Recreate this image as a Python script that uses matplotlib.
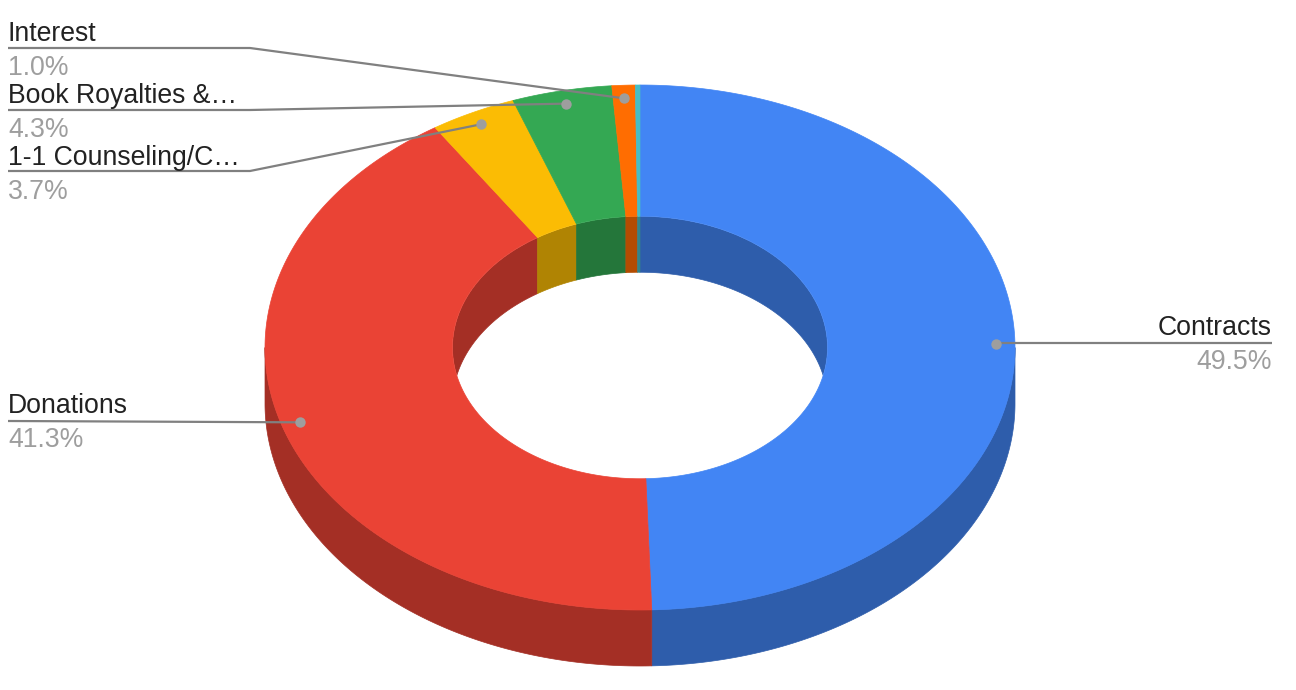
import numpy as np
import matplotlib.pyplot as plt
from matplotlib.patches import Polygon, Ellipse

# slice data, clockwise from 12 o'clock
labels = ['Contracts', 'Donations', '1-1 Counseling/C…', 'Book Royalties &…', 'Interest', 'Other']
values = [49.5, 41.3, 3.7, 4.3, 1.0, 0.2]
colors = ['#4285F4', '#EA4335', '#FBBC04', '#34A853', '#FF6D01', '#46BDC6']
show_label = [True, True, True, True, True, False]

# geometry of the 3d donut (pixels)
cx, cy = 640, 347.5
ra, rb = 375, 262.5
hole = 0.5
depth = 56
dot_r = 0.95

plt.rcParams['font.family'] = ['Liberation Sans', 'DejaVu Sans']

fig = plt.figure(figsize=(12.96, 6.9), dpi=100)
ax = fig.add_axes([0, 0, 1, 1])
ax.set_xlim(0, 1296)
ax.set_ylim(690, 0)
ax.axis('off')


def darken(c, f=0.7):
    rgb = np.array(plt.matplotlib.colors.to_rgb(c))
    return tuple(rgb * f)


def pt(theta, r, dy=0.0):
    t = np.radians(theta)
    return cx + r * ra * np.sin(t), cy - r * rb * np.cos(t) + dy


def arc(t0, t1, r, dy=0.0, n=200):
    th = np.linspace(t0, t1, n)
    x, y = pt(th, r, dy)
    return np.column_stack([x, y])


total = sum(values)
bounds = np.concatenate([[0], np.cumsum(values) / total * 360])

# outer wall (front half: 90..270)
for i, c in enumerate(colors):
    a, b = max(bounds[i], 90), min(bounds[i + 1], 270)
    if b <= a:
        continue
    top = arc(a, b, 1)
    bot = arc(b, a, 1, depth)
    ax.add_patch(Polygon(np.vstack([top, bot]), closed=True, fc=darken(c),
                         ec=darken(c), lw=0.5, zorder=1))

# inner wall (far half of the hole), clipped to the hole opening
hole_clip = Ellipse((cx, cy), 2 * ra * hole, 2 * rb * hole, transform=ax.transData,
                    fc='none', ec='none')
ax.add_patch(hole_clip)
for i, c in enumerate(colors):
    for lo, hi in [(-90, 90), (270, 450)]:
        a, b = max(bounds[i], lo), min(bounds[i + 1], hi)
        if b <= a:
            continue
        top = arc(a, b, hole)
        bot = arc(b, a, hole, depth)
        p = Polygon(np.vstack([top, bot]), closed=True, fc=darken(c),
                    ec=darken(c), lw=0.5, zorder=1)
        ax.add_patch(p)
        p.set_clip_path(hole_clip)

# top face
for i, c in enumerate(colors):
    outer = arc(bounds[i], bounds[i + 1], 1)
    inner = arc(bounds[i + 1], bounds[i], hole)
    ax.add_patch(Polygon(np.vstack([outer, inner]), closed=True, fc=c,
                         ec=c, lw=0.5, zorder=2))

# labels: (text baseline y, line y, elbow x, side)
label_pos = {
    'Contracts': (335, 343, None, 'right'),
    'Donations': (413, 421, None, 'left'),
    '1-1 Counseling/C…': (165, 171, 250, 'left'),
    'Book Royalties &…': (103, 110, 250, 'left'),
    'Interest': (41, 48, 250, 'left'),
}

line_col = '#808080'
fs = 19.2
for i, lab in enumerate(labels):
    if not show_label[i]:
        continue
    mid = (bounds[i] + bounds[i + 1]) / 2
    dx, dy = pt(mid, dot_r)
    ty, ly, ex, side = label_pos[lab]
    pct = f'{values[i] / total * 100:.1f}%'
    if side == 'right':
        xs, ys = [dx, 1272], [ly, ly]
        tx, ha = 1272, 'right'
    else:
        if ex is None:
            xs, ys = [dx, 8], [dy, ly]
        else:
            xs, ys = [dx, ex, 8], [dy, ly, ly]
        tx, ha = 8, 'left'
    ax.plot(xs, ys, color=line_col, lw=1.6, zorder=3, solid_capstyle='butt')
    ax.plot(dx, dy, 'o', ms=7.5, color='#9e9e9e', mec='none', zorder=4)
    ax.text(tx, ty, lab, ha=ha, va='baseline', fontsize=fs, color='#222222')
    ax.text(tx, ty + 34, pct, ha=ha, va='baseline', fontsize=fs, color='#9e9e9e')

fig.savefig('out.png', dpi=100)
